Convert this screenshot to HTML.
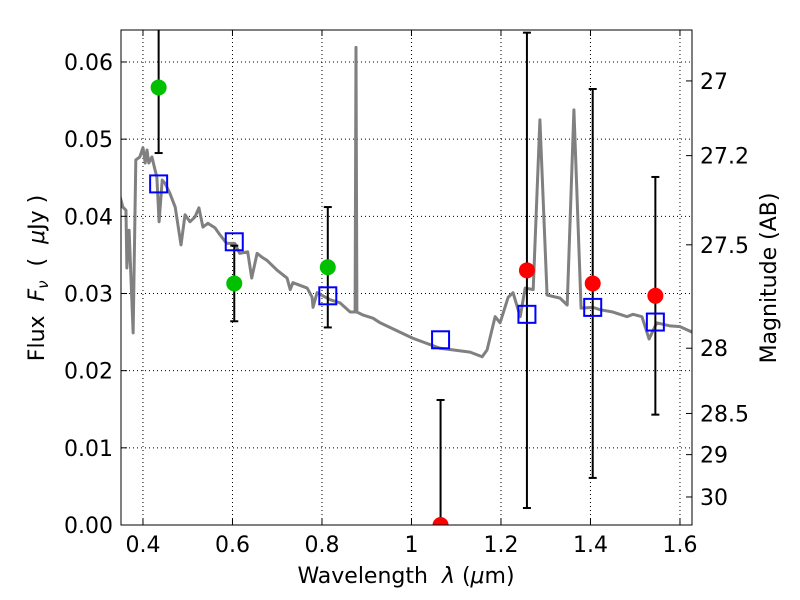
<!DOCTYPE html>
<html><head><meta charset="utf-8"><style>
html,body{margin:0;padding:0;background:#fff;overflow:hidden;width:800px;height:600px}
svg{display:block;position:absolute;left:0;top:0}
svg text{font-family:"DejaVu Sans","Liberation Sans",sans-serif;fill:#000}
</style></head><body>
<svg id="c" width="800" height="600" xmlns="http://www.w3.org/2000/svg">
<text x="406" y="583" font-size="22" text-anchor="middle" xml:space="preserve">Wavelength  <tspan font-style="italic">λ</tspan> (<tspan font-style="italic">μ</tspan>m)</text>
<text transform="translate(44,278) rotate(-90)" font-size="22" text-anchor="middle" xml:space="preserve">Flux  <tspan font-style="italic">F<tspan font-size="15" dy="4">ν</tspan></tspan><tspan dy="-4">  (  <tspan font-style="italic">μ</tspan>Jy )</tspan></text>
<text transform="translate(776,278) rotate(-90)" font-size="22" text-anchor="middle">Magnitude (AB)</text>
</svg>
<script>
const specLam=[0.349,0.355,0.362,0.364,0.369,0.378,0.384,0.393,0.400,0.405,0.409,0.413,0.420,0.427,0.431,0.436,0.443,0.449,0.460,0.472,0.485,0.494,0.505,0.516,0.525,0.534,0.545,0.561,0.572,0.587,0.605,0.616,0.634,0.643,0.655,0.666,0.677,0.700,0.722,0.729,0.735,0.767,0.778,0.780,0.789,0.818,0.840,0.863,0.874,0.876,0.878,0.892,0.914,0.930,1.003,1.064,1.131,1.158,1.169,1.187,1.198,1.216,1.227,1.243,1.254,1.272,1.287,1.303,1.332,1.348,1.363,1.379,1.406,1.421,1.450,1.482,1.495,1.515,1.531,1.548,1.578,1.600,1.627];
const specFlux=[0.0425,0.0412,0.0408,0.0333,0.0382,0.0249,0.0473,0.0477,0.0489,0.0469,0.0486,0.0469,0.0477,0.0460,0.0451,0.0393,0.0447,0.0443,0.0430,0.0412,0.0363,0.0402,0.0393,0.0399,0.0411,0.0386,0.0391,0.0385,0.0376,0.0365,0.0365,0.0352,0.0354,0.0320,0.0352,0.0347,0.0343,0.0330,0.0320,0.0305,0.0314,0.0307,0.0295,0.0282,0.0301,0.0292,0.0288,0.0276,0.0276,0.0619,0.0276,0.0272,0.0268,0.0262,0.0242,0.0229,0.0224,0.0218,0.0227,0.0270,0.0262,0.0295,0.0301,0.0270,0.0307,0.0305,0.0525,0.0298,0.0294,0.0285,0.0538,0.0281,0.0282,0.0279,0.0276,0.0270,0.0273,0.0270,0.0241,0.0262,0.0258,0.0257,0.0250];
const greenLam=[0.435,0.604,0.813];
const greenFlux=[0.0567,0.0313,0.0334];
const greenErr=[0.0085,0.0049,0.0078];
const redLam=[1.065,1.258,1.405,1.545];
const redFlux=[0.0,0.0330,0.0313,0.0297];
const redErr=[0.0162,0.0308,0.0252,0.0154];
const modelLam=[0.435,0.604,0.813,1.065,1.258,1.405,1.545];
const modelFlux=[0.0442,0.0367,0.0297,0.0240,0.0273,0.0282,0.0263];
const xTicks=[0.4,0.6,0.8,1.0,1.2,1.4,1.6];
const xTickLabels=["0.4","0.6","0.8","1","1.2","1.4","1.6"];
const yTicks=[0,0.01,0.02,0.03,0.04,0.05,0.06];
const yTickLabels=["0.00","0.01","0.02","0.03","0.04","0.05","0.06"];
const magTicks=[27,27.2,27.5,28,28.5,29,30];
const magTickLabels=["27","27.2","27.5","28","28.5","29","30"];

const L=121,R=692,T=30,B=525;
const X=v=>120.6+(v-0.35)*447.5;
const Y=v=>525-v*7717;
const magY=m=>Y(Math.pow(10,-0.4*(m-23.9)));
const svg=document.getElementById('c');
const NS='http://www.w3.org/2000/svg';
function mk(tag,attrs,parent){const e=document.createElementNS(NS,tag);for(const k in attrs)e.setAttribute(k,attrs[k]);(parent||svg).appendChild(e);return e;}
const defs=mk('defs',{});const cp=mk('clipPath',{id:'clip'},defs);mk('rect',{x:L,y:T,width:R-L,height:B-T},cp);
const plot=mk('g',{'clip-path':'url(#clip)'});


xTicks.forEach((t)=>{const g=mk('line',{x1:X(t),x2:X(t),y1:T,y2:B,stroke:'#000','stroke-width':1,'stroke-dasharray':'1,3'},plot);

});
yTicks.forEach((t)=>{const g=mk('line',{x1:L,x2:R,y1:Y(t),y2:Y(t),stroke:'#000','stroke-width':1,'stroke-dasharray':'1,3'},plot);

});
const sp=mk('polyline',{points:specLam.map((l,i)=>X(l)+','+Y(specFlux[i])).join(' '),fill:'none',stroke:'#808080','stroke-width':3,'stroke-linejoin':'round'},plot);


function errbar(l,f,e){const x=X(l);const g=mk('g',{},plot);


mk('line',{x1:x,x2:x,y1:Y(f+e),y2:Y(f-e),stroke:'#000','stroke-width':2},g);
[f+e,f-e].forEach(v=>mk('line',{x1:x-4,x2:x+4,y1:Y(v),y2:Y(v),stroke:'#000','stroke-width':2},g));}
greenLam.forEach((l,i)=>errbar(l,greenFlux[i],greenErr[i]));
redLam.forEach((l,i)=>errbar(l,redFlux[i],redErr[i]));
modelLam.forEach((l,i)=>{const r=mk('rect',{x:X(l)-8.5,y:Y(modelFlux[i])-8.5,width:17,height:17,fill:'none',stroke:'#0000ff','stroke-width':2},plot);

});
greenLam.forEach((l,i)=>{const c=mk('circle',{cx:X(l),cy:Y(greenFlux[i]),r:8,fill:'#00c000'},plot);

});
redLam.forEach((l,i)=>{const c=mk('circle',{cx:X(l),cy:Y(redFlux[i]),r:8,fill:'#ff0000'},plot);

});
const fr=mk('rect',{x:L,y:T,width:R-L,height:B-T,fill:'none',stroke:'#000','stroke-width':1});


xTicks.forEach((t,i)=>{const x=X(t);
mk('line',{x1:x,x2:x,y1:B,y2:B-6,stroke:'#000'});mk('line',{x1:x,x2:x,y1:T,y2:T+6,stroke:'#000'});
const tx=mk('text',{x:x,y:B+27,'font-size':22,'text-anchor':'middle'});tx.textContent=xTickLabels[i];

});
yTicks.forEach((t,i)=>{const y=Y(t);
mk('line',{x1:L,x2:L+6,y1:y,y2:y,stroke:'#000'});
const tx=mk('text',{x:L-8,y:y+8,'font-size':22,'text-anchor':'end'});tx.textContent=yTickLabels[i];

});
magTicks.forEach((m,i)=>{const y=magY(m);
mk('line',{x1:R,x2:R-6,y1:y,y2:y,stroke:'#000'});
const tx=mk('text',{x:R+8,y:y+8,'font-size':22});tx.textContent=magTickLabels[i];

});
</script>
</body></html>
